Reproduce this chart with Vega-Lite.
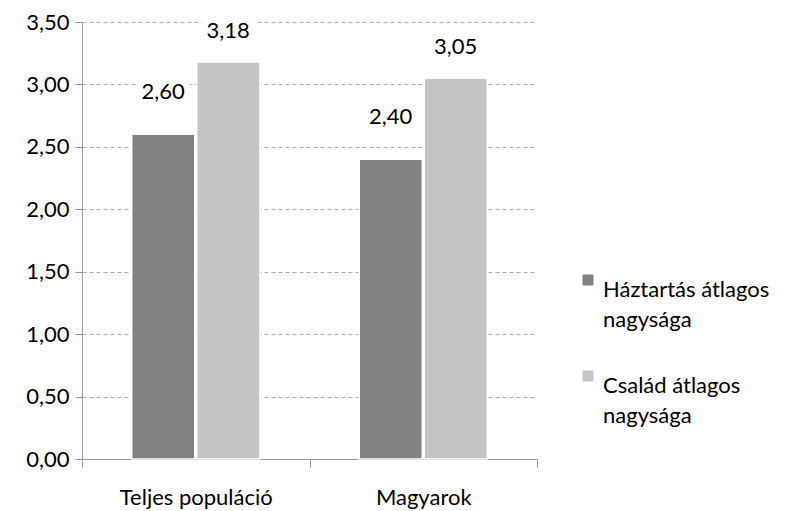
{
  "$schema": "https://vega.github.io/schema/vega-lite/v6.json",
  "width": 455,
  "height": 437,
  "autosize": "none",
  "padding": {"left": 82, "top": 22, "right": 251, "bottom": 52},
  "background": "white",
  "config": {
    "locale": {"number": {"decimal": ",", "thousands": " ", "grouping": [3], "currency": ["", ""]}},
    "font": "Lato",
    "view": {"stroke": null},
    "style": {"guide-label": {"lineHeight": 30}}
  },
  "data": {
    "values": [
      {"csoport": "Teljes populáció", "mutato": "Háztartás átlagos nagysága", "ertek": 2.60},
      {"csoport": "Teljes populáció", "mutato": "Család átlagos nagysága", "ertek": 3.18},
      {"csoport": "Magyarok", "mutato": "Háztartás átlagos nagysága", "ertek": 2.40},
      {"csoport": "Magyarok", "mutato": "Család átlagos nagysága", "ertek": 3.05}
    ]
  },
  "encoding": {
    "x": {
      "field": "csoport", "type": "nominal", "sort": ["Teljes populáció", "Magyarok"],
      "scale": {"paddingInner": 0, "paddingOuter": 0},
      "axis": {
        "title": null, "labelAngle": 0, "labelFontSize": 22, "labelColor": "#000000",
        "labelPadding": 20, "domainColor": "#999999", "tickColor": "#999999",
        "tickBand": "extent", "tickSize": 8, "labelFont": "Lato"
      }
    },
    "xOffset": {
      "field": "mutato", "type": "nominal",
      "sort": ["Háztartás átlagos nagysága", "Család átlagos nagysága"],
      "scale": {"paddingInner": 0.03, "paddingOuter": 0.765}
    },
    "y": {
      "field": "ertek", "type": "quantitative",
      "scale": {"domain": [0, 3.5], "nice": false},
      "axis": {
        "title": null, "values": [0, 0.5, 1, 1.5, 2, 2.5, 3, 3.5], "format": ".2f",
        "labelFontSize": 22, "labelColor": "#000000", "labelPadding": 6,
        "domainColor": "#999999", "tickColor": "#999999", "tickSize": 7,
        "gridColor": "#aaaaaa", "gridDash": [4, 3], "labelFont": "Lato"
      }
    }
  },
  "layer": [
    {
      "mark": {"type": "bar", "stroke": "white", "strokeWidth": 1.5},
      "encoding": {
        "color": {
          "field": "mutato", "type": "nominal",
          "sort": ["Háztartás átlagos nagysága", "Család átlagos nagysága"],
          "scale": {"range": ["#828283", "#c5c5c7"]},
          "legend": {
            "title": null, "orient": "none", "legendX": 495, "legendY": 247,
            "symbolType": "square", "symbolSize": 120, "symbolStrokeWidth": 0,
            "labelFontSize": 22, "labelColor": "#000000", "labelFont": "Lato",
            "labelBaseline": "top", "labelOffset": 4, "rowPadding": 34, "labelLimit": 300,
            "labelExpr": "datum.label == 'Háztartás átlagos nagysága' ? ['Háztartás átlagos', 'nagysága'] : ['Család átlagos', 'nagysága']"
          }
        }
      }
    },
    {
      "transform": [{"filter": "datum.mutato == 'Háztartás átlagos nagysága'"}],
      "encoding": {"text": {"field": "ertek", "type": "quantitative", "format": ".2f"}},
      "layer": [
        {"mark": {"type": "text", "fontSize": 22, "dy": -42, "baseline": "middle", "color": "white", "stroke": "white", "strokeWidth": 14, "strokeJoin": "miter"}},
        {"mark": {"type": "text", "fontSize": 22, "dy": -42, "baseline": "middle", "color": "#000000"}}
      ]
    },
    {
      "transform": [{"filter": "datum.mutato == 'Család átlagos nagysága'"}],
      "encoding": {"text": {"field": "ertek", "type": "quantitative", "format": ".2f"}},
      "layer": [
        {"mark": {"type": "text", "fontSize": 22, "dy": -31, "baseline": "middle", "color": "white", "stroke": "white", "strokeWidth": 14, "strokeJoin": "miter"}},
        {"mark": {"type": "text", "fontSize": 22, "dy": -31, "baseline": "middle", "color": "#000000"}}
      ]
    }
  ]
}
